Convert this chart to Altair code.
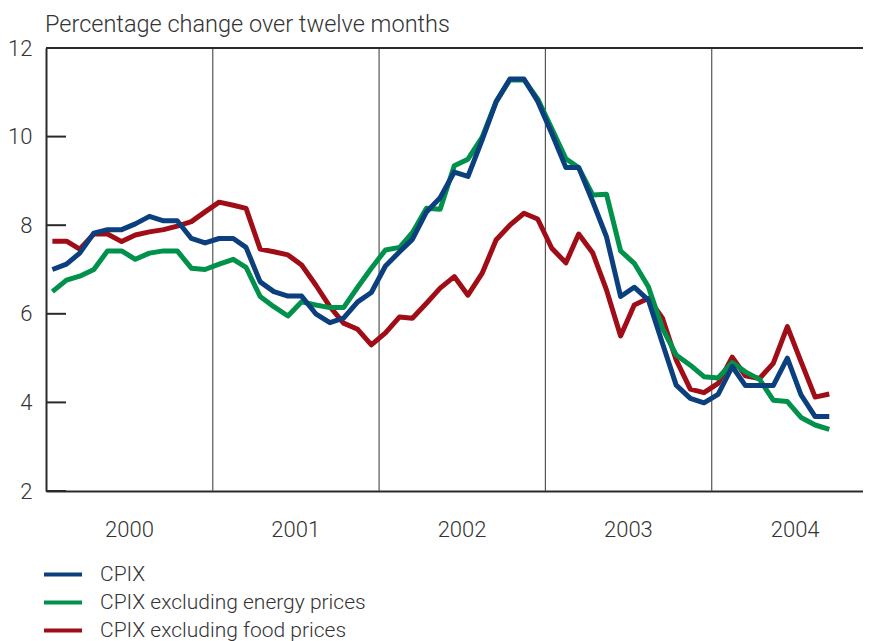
import altair as alt
import pandas as pd

# ---- data (monthly, Jan 2000 - Sep 2004) ----
cpix = [7.0, 7.12, 7.37, 7.82, 7.9, 7.9, 8.03, 8.2, 8.1, 8.1, 7.7, 7.6,
        7.7, 7.7, 7.5, 6.72, 6.5, 6.4, 6.4, 6.0, 5.8, 5.9, 6.27, 6.48,
        7.08, 7.4, 7.68, 8.3, 8.62, 9.2, 9.1, 9.92, 10.79, 11.3, 11.3, 10.8,
        10.07, 9.3, 9.3, 8.53, 7.74, 6.39, 6.6, 6.31, 5.33, 4.39, 4.09, 3.99,
        4.18, 4.81, 4.38, 4.38, 4.38, 5.0, 4.17, 3.68, 3.68]
cpix_ex_energy = [6.5, 6.76, 6.85, 7.0, 7.42, 7.42, 7.23, 7.37, 7.42, 7.42, 7.03, 7.0,
                  7.12, 7.23, 7.05, 6.39, 6.16, 5.95, 6.27, 6.2, 6.14, 6.14, 6.6, 7.03,
                  7.44, 7.5, 7.83, 8.38, 8.36, 9.34, 9.49, 9.98, 10.79, 11.28, 11.28, 10.85,
                  10.18, 9.5, 9.3, 8.68, 8.7, 7.42, 7.14, 6.61, 5.67, 5.07, 4.84, 4.58,
                  4.55, 4.9, 4.69, 4.52, 4.05, 4.02, 3.66, 3.49, 3.39]
cpix_ex_food = [7.64, 7.64, 7.46, 7.8, 7.8, 7.63, 7.78, 7.85, 7.9, 7.98, 8.08, 8.3,
                8.52, 8.45, 8.38, 7.46, 7.4, 7.33, 7.1, 6.65, 6.16, 5.79, 5.65, 5.3,
                5.57, 5.93, 5.9, 6.24, 6.58, 6.84, 6.42, 6.91, 7.67, 8.0, 8.27, 8.14,
                7.48, 7.15, 7.8, 7.37, 6.54, 5.5, 6.2, 6.35, 5.9, 4.96, 4.3, 4.22,
                4.43, 5.02, 4.6, 4.54, 4.88, 5.71, 4.92, 4.12, 4.19]

series_names = ["CPIX", "CPIX excluding energy prices", "CPIX excluding food prices"]
series_colors = ["#0b3f7e", "#00914a", "#a00d16"]
years = ["2000", "2001", "2002", "2003", "2004"]
y_ticks = [2, 4, 6, 8, 10, 12]
title_text = "Percentage change over twelve months"

months = pd.date_range("2000-01-01", periods=len(cpix), freq="MS") + pd.Timedelta(days=14)
dates = [d.strftime("%Y-%m-%dT00:00:00") for d in months]

rows = []
for name, vals in zip(series_names, [cpix, cpix_ex_energy, cpix_ex_food]):
    for d, v in zip(dates, vals):
        rows.append({"date": d, "value": v, "series": name})
df = pd.DataFrame(rows)

sep_df = pd.DataFrame({"date": [f"{y}-01-01T00:00:00" for y in years[1:]]})
tick_df = pd.DataFrame({"v": y_ticks})
title_df = pd.DataFrame({"t": [title_text]})

W, H = 817, 443
FONT = "Roboto"
TXT = "#333333"
AX = "#2a2a2a"
FS = 22

x_scale = alt.Scale(domain=[alt.DateTime(year=2000, month=1, date=1),
                            alt.DateTime(year=2004, month=11, date=28)])
y_scale = alt.Scale(domain=[2, 12], nice=False, zero=False)

x_axis = alt.Axis(values=[alt.DateTime(year=int(y), month=7, date=1) for y in years],
                  format="%Y", title=None, ticks=False, tickSize=0, grid=False,
                  domainColor=AX, domainWidth=2, labelPadding=28,
                  labelFontSize=FS, labelFont=FONT, labelFontWeight=300, labelColor=TXT)
y_axis = alt.Axis(values=y_ticks, title=None, ticks=False, tickSize=0, grid=False,
                  domainColor=AX, domainWidth=2, labelPadding=14,
                  labelFontSize=FS, labelFont=FONT, labelFontWeight=300, labelColor=TXT)

def xenc(field="date"):
    return alt.X(f"{field}:T", scale=x_scale, axis=x_axis)

def yenc(field="value"):
    return alt.Y(f"{field}:Q", scale=y_scale, axis=y_axis)

color = alt.Color(
    "series:N",
    scale=alt.Scale(domain=series_names, range=series_colors),
    legend=alt.Legend(
        title=None, orient="none", legendX=5.5, legendY=515,
        symbolType="M-2,0H2", symbolSize=361, symbolStrokeWidth=4,
        labelOffset=25.5, labelFontSize=21, labelFont=FONT, labelFontWeight=300,
        labelColor=TXT, rowPadding=6, padding=0, labelLimit=600,
    ),
)

seps = alt.Chart(sep_df).mark_rule(color="#555555", strokeWidth=1.2).encode(
    x=xenc(), y=alt.value(0), y2=alt.value(H)
)
ticks = alt.Chart(tick_df).mark_rule(color=AX, strokeWidth=2).encode(
    y=yenc("v"), x=alt.value(0), x2=alt.value(20)
)
top_border = alt.Chart(tick_df).mark_rule(color=AX, strokeWidth=2).encode(
    x=alt.value(0), x2=alt.value(W), y=alt.value(0)
)
title = alt.Chart(title_df).mark_text(
    align="left", baseline="alphabetic", fontSize=23.5, font=FONT, fontWeight=300, color=TXT
).encode(text="t:N", x=alt.value(-1), y=alt.value(-16))

def line_layer(name):
    return alt.Chart(df).transform_filter(alt.datum.series == name).mark_line(
        strokeWidth=5, strokeJoin="round", strokeCap="butt"
    ).encode(x=xenc(), y=yenc(), color=color, order=alt.Order("date:T"))

chart = alt.layer(
    seps, ticks, top_border, title,
    line_layer(series_names[2]), line_layer(series_names[1]), line_layer(series_names[0]),
).properties(
    width=W, height=H,
    autosize=alt.AutoSizeParams(type="none"),
    padding={"left": 38, "top": 40, "right": 0, "bottom": 150},
).configure_view(stroke=None)

chart.save("out.html", embed_options={"renderer": "svg", "actions": False})
